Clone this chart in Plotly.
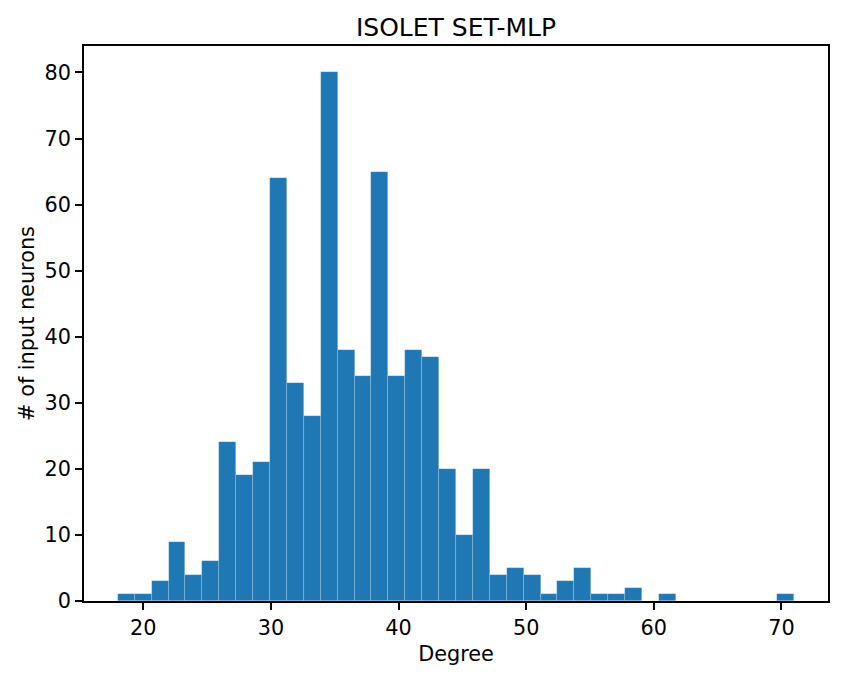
import numpy as np
import plotly.graph_objects as go

# Histogram data (40 bins from 18 to 71)
bin_min = 18
bin_max = 71
n_bins = 40
counts = [1, 1, 3, 9, 4, 6, 24, 19, 21, 64,
          33, 28, 80, 38, 34, 65, 34, 38, 37, 20,
          10, 20, 4, 5, 4, 1, 3, 5, 1, 1,
          2, 0, 1, 0, 0, 0, 0, 0, 0, 1]
x_ticks = [20, 30, 40, 50, 60, 70]
y_ticks = [0, 10, 20, 30, 40, 50, 60, 70, 80]

edges = np.linspace(bin_min, bin_max, n_bins + 1)
centers = (edges[:-1] + edges[1:]) / 2
width = edges[1] - edges[0]

span = bin_max - bin_min
xr = [bin_min - 0.05 * span, bin_max + 0.05 * span]
yr = [0, max(counts) * 1.05]

font = "DejaVu Sans"

fig = go.Figure(go.Bar(
    x=centers, y=counts, width=width,
    marker=dict(color="#1f77b4", line=dict(color="rgba(255,255,255,0.3)", width=0.6)),
))

fig.update_layout(
    width=851, height=680,
    margin=dict(l=84, r=23, t=46, b=79),
    plot_bgcolor="white", paper_bgcolor="white",
    font=dict(family=font, size=20.8, color="black"),
    title=dict(text="ISOLET SET-MLP", x=0.5, xref="paper", xanchor="center",
               y=1 - 27 / 680, yref="container", yanchor="middle",
               font=dict(size=25, family=font, color="black")),
    showlegend=False,
    bargap=0,
)
fig.update_xaxes(
    range=xr, tickvals=x_ticks, ticks="outside", ticklen=7, tickwidth=1.6,
    tickcolor="black", showline=True, linecolor="black", linewidth=1.6,
    mirror=True, showgrid=False, zeroline=False,
    title=dict(text="Degree", font=dict(size=20.8), standoff=8),
)
fig.update_yaxes(
    range=yr, tickvals=y_ticks, ticks="outside", ticklen=7, tickwidth=1.6,
    tickcolor="black", showline=True, linecolor="black", linewidth=1.6,
    mirror=True, showgrid=False, zeroline=False,
    title=dict(text="# of input neurons", font=dict(size=20.8), standoff=4),
)

fig.write_html("out.html")
